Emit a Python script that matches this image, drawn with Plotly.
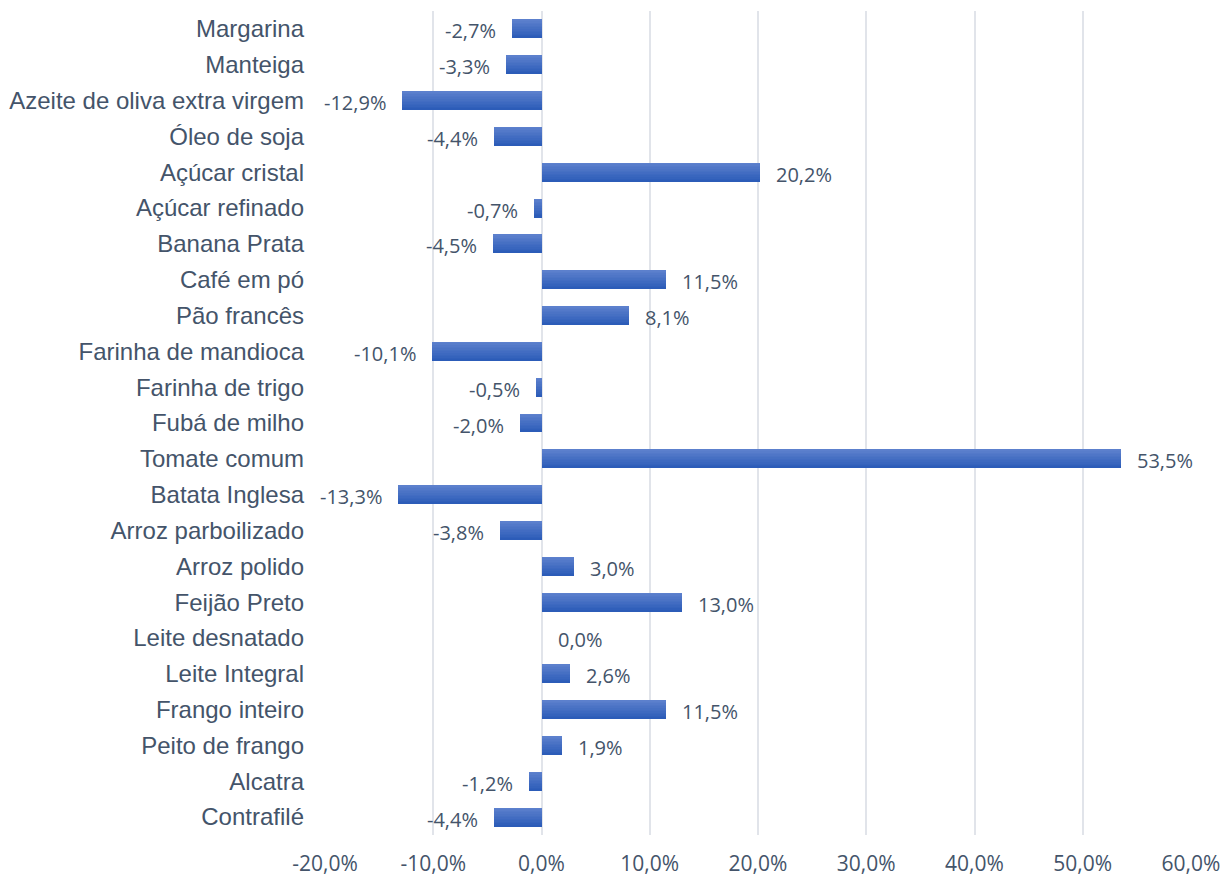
import plotly.graph_objects as go

categories = ["Margarina", "Manteiga", "Azeite de oliva extra virgem", "Óleo de soja",
              "Açúcar cristal", "Açúcar refinado", "Banana Prata", "Café em pó",
              "Pão francês", "Farinha de mandioca", "Farinha de trigo", "Fubá de milho",
              "Tomate comum", "Batata Inglesa", "Arroz parboilizado", "Arroz polido",
              "Feijão Preto", "Leite desnatado", "Leite Integral", "Frango inteiro",
              "Peito de frango", "Alcatra", "Contrafilé"]
values = [-2.7, -3.3, -12.9, -4.4, 20.2, -0.7, -4.5, 11.5, 8.1, -10.1, -0.5, -2.0,
          53.5, -13.3, -3.8, 3.0, 13.0, 0.0, 2.6, 11.5, 1.9, -1.2, -4.4]
x_ticks = [-20, -10, 0, 10, 20, 30, 40, 50, 60]
x_ticklabels = ["-20,0%", "-10,0%", "0,0%", "10,0%", "20,0%", "30,0%", "40,0%", "50,0%", "60,0%"]

TEXT = "#44546A"
fig = go.Figure()

# gradient bars built from thin strips (top light -> bottom dark)
N = 12
W = 0.53
top = (92, 128, 205)
bot = (44, 92, 184)
for i in range(N):
    t = i / (N - 1)
    c = tuple(round(top[k] + (bot[k] - top[k]) * t) for k in range(3))
    w = W / N * (1.0 if i == N - 1 else 1.3)
    fig.add_trace(go.Bar(
        y=categories, x=values, orientation="h",
        width=w, offset=-W / 2 + i * W / N,
        marker=dict(color="rgb(%d,%d,%d)" % c, line=dict(width=0)),
        showlegend=False, hoverinfo="skip",
    ))

for cat, v in zip(categories, values):
    label = ("%.1f%%" % v).replace(".", ",")
    fig.add_annotation(
        x=v, y=cat, text=label, showarrow=False,
        xanchor="left" if v >= 0 else "right",
        xshift=14 if v >= 0 else -14, yshift=-2,
        font=dict(family="Open Sans", size=20, color=TEXT),
    )

fig.update_layout(
    width=1232, height=877,
    margin=dict(l=325, r=41, t=11, b=42, autoexpand=False),
    barmode="overlay",
    plot_bgcolor="white", paper_bgcolor="white",
    bargap=0,
)
fig.update_xaxes(
    range=[-20, 60], tickvals=x_ticks, ticktext=x_ticklabels,
    showgrid=True, gridcolor="#E1E4EA", gridwidth=2,
    zeroline=True, zerolinecolor="#E1E4EA", zerolinewidth=2,
    tickfont=dict(family="Open Sans", size=21, color=TEXT),
    ticks="", ticklabelstandoff=14, automargin=False,
)
fig.update_yaxes(
    autorange="reversed", categoryorder="array", categoryarray=categories,
    tickfont=dict(family="Liberation Sans", size=24, color=TEXT),
    ticks="", ticklabelstandoff=20, showgrid=False, automargin=False,
)

fig.write_html("out.html")
